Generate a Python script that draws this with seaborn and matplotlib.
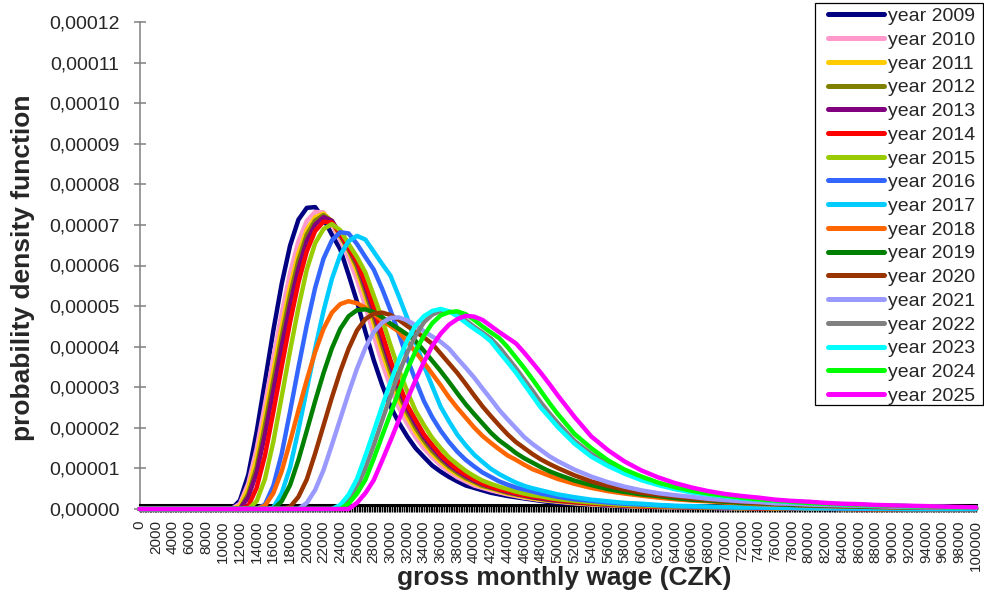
import matplotlib
matplotlib.use("Agg")
import matplotlib.pyplot as plt
from matplotlib.lines import Line2D
from matplotlib.patches import Rectangle
from matplotlib.ticker import FuncFormatter, MultipleLocator
import pandas as pd
import seaborn as sns

# ---------------- data (density values in units of 1e-6) ----------------
wage = (list(range(0, 10000, 2000)) + list(range(10000, 50001, 1000))
        + list(range(52000, 100001, 2000)))
tick_wage = list(range(0, 100001, 2000))
SCALE = 1e-6

years = ["year 2009", "year 2010", "year 2011", "year 2012", "year 2013", "year 2014",
         "year 2015", "year 2016", "year 2017", "year 2018", "year 2019", "year 2020",
         "year 2021", "year 2022", "year 2023", "year 2024", "year 2025"]

colors = ["#000080", "#FF99CC", "#FFCC00", "#808000", "#800080", "#FF0000",
          "#99CC00", "#3366FF", "#00CCFF", "#FF6600", "#008000", "#993300",
          "#9999FF", "#808080", "#00FFFF", "#00FF00", "#FF00FF"]

Z5 = [0, 0, 0, 0, 0]

pdf_2009 = Z5 + [0, 0, 2.1, 8.4, 19.0, 31.4, 44.0, 55.5, 64.9, 71.3, 74.2, 74.4, 71.5, 67.6, 64.0,
                 57.7, 51.1, 43.7, 36.7, 30.6, 25.3, 21.3, 17.9, 15.0, 12.8, 10.7, 9.2, 7.9, 6.8,
                 5.8, 5.2, 4.6, 4.0, 3.6, 3.2, 2.9, 2.6, 2.3, 2.0, 1.7, 1.5] + \
           [1.3, 1.0, 0.8, 0.6, 0.6, 0.5, 0.4, 0.3, 0.3, 0.2, 0.2, 0.1, 0.1, 0.1, 0.1,
            0, 0, 0, 0, 0, 0, 0, 0, 0, 0]
pdf_2010 = Z5 + [0, 0, 1.3, 6.3, 14.8, 25.8, 37.3, 48.3, 58.2, 66.0, 71.0, 73.2, 73.1, 70.0, 66.3,
                 61.8, 56.5, 50.0, 42.9, 36.0, 30.1, 24.9, 21.0, 17.7, 14.9, 12.7, 10.7, 9.2, 7.8,
                 6.8, 5.8, 5.2, 4.6, 4.1, 3.6, 3.2, 2.8, 2.5, 2.2, 2.0, 1.8] + \
           [1.4, 1.1, 0.9, 0.7, 0.6, 0.5, 0.4, 0.4, 0.3, 0.2, 0.2, 0.2, 0.1, 0.1, 0.1, 0.1,
            0, 0, 0, 0, 0, 0, 0, 0, 0]
pdf_2011 = Z5 + [0, 0, 0.7, 5.0, 12.5, 22.9, 34.0, 44.8, 54.8, 63.0, 68.8, 71.9, 72.8, 70.8, 67.1,
                 63.6, 58.6, 52.4, 45.7, 38.7, 32.7, 26.8, 22.7, 19.0, 16.2, 13.6, 11.6, 9.8, 8.5,
                 7.3, 6.3, 5.5, 5.0, 4.4, 3.8, 3.4, 3.0, 2.6, 2.3, 2.1, 1.9] + \
           [1.5, 1.2, 1.0, 0.8, 0.6, 0.5, 0.5, 0.4, 0.3, 0.3, 0.2, 0.2, 0.1, 0.1, 0.1, 0.1,
            0, 0, 0, 0, 0, 0, 0, 0, 0]
pdf_2012 = Z5 + [0, 0, 0, 3.7, 10.3, 20.6, 31.6, 42.5, 52.7, 61.3, 67.6, 71.1, 72.4, 71.0, 67.4,
                 63.9, 59.7, 53.6, 47.2, 40.4, 34.0, 28.3, 23.8, 20.0, 16.9, 14.3, 12.2, 10.4, 8.9,
                 7.6, 6.7, 5.7, 5.2, 4.6, 4.0, 3.6, 3.2, 2.8, 2.5, 2.2, 2.0] + \
           [1.6, 1.3, 1.0, 0.8, 0.7, 0.6, 0.5, 0.4, 0.3, 0.3, 0.2, 0.2, 0.2, 0.1, 0.1, 0.1,
            0, 0, 0, 0, 0, 0, 0, 0, 0]
pdf_2013 = Z5 + [0, 0, 0, 2.9, 8.9, 18.4, 29.2, 40.1, 50.4, 59.3, 66.1, 70.1, 71.9, 71.0, 67.7,
                 64.3, 60.7, 54.8, 48.6, 41.9, 35.4, 29.8, 24.8, 21.0, 17.7, 15.1, 12.8, 10.9, 9.4,
                 8.1, 7.0, 6.1, 5.4, 4.8, 4.2, 3.7, 3.3, 2.9, 2.6, 2.3, 2.1] + \
           [1.7, 1.4, 1.1, 0.9, 0.7, 0.6, 0.5, 0.4, 0.4, 0.3, 0.3, 0.2, 0.2, 0.1, 0.1, 0.1, 0.1,
            0, 0, 0, 0, 0, 0, 0, 0]
pdf_2014 = Z5 + [0, 0, 0, 0.7, 5.2, 13.2, 23.9, 35.1, 46.0, 55.8, 63.5, 68.5, 70.8, 70.6, 67.9,
                 64.4, 61.1, 55.7, 49.8, 43.3, 36.7, 31.1, 25.6, 22.0, 18.4, 15.8, 13.3, 11.5, 9.7,
                 8.5, 7.3, 6.3, 5.5, 4.9, 4.4, 3.9, 3.4, 3.1, 2.8, 2.5, 2.2] + \
           [1.8, 1.4, 1.2, 0.9, 0.7, 0.6, 0.5, 0.5, 0.4, 0.3, 0.3, 0.2, 0.2, 0.2, 0.1, 0.1, 0.1,
            0, 0, 0, 0, 0, 0, 0, 0]
pdf_2015 = Z5 + [0, 0, 0, 0, 1.9, 7.4, 16.6, 27.7, 39.0, 49.6, 59.0, 65.5, 69.0, 70.2, 68.7,
                 65.3, 62.1, 58.3, 52.6, 46.8, 40.4, 34.3, 29.0, 24.2, 20.7, 17.5, 15.0, 12.7, 11.0,
                 9.4, 8.1, 7.0, 6.2, 5.5, 4.9, 4.3, 3.8, 3.4, 3.1, 2.7, 2.4] + \
           [2.0, 1.6, 1.3, 1.0, 0.9, 0.7, 0.6, 0.5, 0.4, 0.4, 0.3, 0.3, 0.2, 0.2, 0.1, 0.1, 0.1,
            0.1, 0, 0, 0, 0, 0, 0, 0]
pdf_2016 = Z5 + [0, 0, 0, 0, 0, 1.1, 5.7, 13.6, 24.0, 34.9, 45.3, 54.5, 61.7, 66.2, 68.2,
                 67.9, 65.3, 62.1, 59.0, 54.3, 49.0, 43.2, 37.1, 31.7, 26.6, 22.6, 19.3, 16.5, 14.1,
                 12.1, 10.5, 9.0, 7.9, 6.8, 6.0, 5.3, 4.8, 4.3, 3.8, 3.4, 3.0] + \
           [2.4, 2.0, 1.6, 1.3, 1.1, 0.9, 0.7, 0.6, 0.5, 0.4, 0.4, 0.3, 0.3, 0.2, 0.2, 0.2, 0.1,
            0.1, 0.1, 0, 0, 0, 0, 0, 0]
pdf_2017 = Z5 + [0, 0, 0, 0, 0, 0, 0.3, 3.9, 10.2, 19.5, 29.5, 39.5, 48.8, 56.7, 62.6,
                 66.0, 67.3, 66.4, 63.4, 60.4, 57.5, 52.4, 47.1, 41.2, 35.3, 30.2, 25.2, 21.6, 18.3,
                 15.7, 13.4, 11.6, 9.9, 8.6, 7.5, 6.5, 5.7, 5.1, 4.6, 4.1, 3.6] + \
           [2.9, 2.3, 1.9, 1.5, 1.3, 1.0, 0.8, 0.7, 0.6, 0.5, 0.4, 0.4, 0.3, 0.3, 0.2, 0.2, 0.2,
            0.1, 0.1, 0.1, 0, 0, 0, 0, 0]
pdf_2018 = Z5 + [0, 0, 0, 0, 0, 0.8, 3.9, 9.3, 16.6, 24.3, 31.8, 38.7, 44.4, 48.4, 50.5,
                 51.2, 50.7, 49.6, 48.0, 46.5, 45.1, 43.7, 41.2, 38.7, 36.1, 33.3, 30.5, 27.5, 24.9,
                 22.5, 20.1, 18.0, 16.3, 14.7, 13.2, 12.1, 10.9, 9.8, 9.0, 8.2, 7.4] + \
           [6.2, 5.2, 4.4, 3.8, 3.3, 2.8, 2.4, 2.1, 1.9, 1.6, 1.4, 1.2, 1.1, 1.0, 0.8, 0.7, 0.6,
            0.6, 0.5, 0.4, 0.4, 0.4, 0.3, 0.3, 0.3]
pdf_2019 = Z5 + [0, 0, 0, 0, 0, 0, 0, 1.9, 5.9, 12.1, 19.3, 26.6, 33.5, 39.6, 44.4,
                 47.5, 49.0, 49.2, 48.5, 47.3, 45.7, 44.4, 43.0, 41.4, 39.0, 36.5, 34.0, 31.3, 28.5,
                 25.8, 23.4, 21.1, 18.8, 16.9, 15.4, 13.8, 12.5, 11.4, 10.3, 9.3, 8.5] + \
           [7.0, 5.9, 4.9, 4.2, 3.6, 3.2, 2.7, 2.3, 2.1, 1.8, 1.5, 1.4, 1.2, 1.0, 0.9, 0.8, 0.7,
            0.6, 0.5, 0.5, 0.4, 0.4, 0.4, 0.3, 0.3]
pdf_2020 = Z5 + [0, 0, 0, 0, 0, 0, 0, 0, 0.5, 3.0, 7.3, 13.7, 20.6, 27.5, 33.9,
                 39.5, 44.0, 46.8, 48.1, 48.4, 47.8, 46.6, 45.1, 43.7, 42.3, 40.7, 38.3, 35.9, 33.5,
                 30.8, 28.0, 25.3, 22.9, 20.6, 18.4, 16.5, 15.0, 13.5, 12.2, 11.1, 10.1] + \
           [8.3, 6.8, 5.7, 4.8, 4.0, 3.5, 3.1, 2.6, 2.3, 2.0, 1.7, 1.5, 1.3, 1.2, 1.0, 0.9, 0.8,
            0.7, 0.6, 0.5, 0.5, 0.4, 0.4, 0.4, 0.3]
pdf_2021 = Z5 + [0, 0, 0, 0, 0, 0, 0, 0, 0, 0, 1.5, 4.7, 9.6, 15.8, 22.2,
                 28.6, 34.6, 39.7, 43.6, 45.9, 47.1, 47.2, 46.5, 45.3, 43.8, 42.5, 41.2, 39.5, 37.1,
                 34.8, 32.4, 29.7, 27.1, 24.4, 22.1, 19.9, 17.7, 16.0, 14.5, 13.0, 11.8] + \
           [9.7, 8.0, 6.6, 5.5, 4.6, 3.9, 3.4, 3.0, 2.5, 2.2, 1.9, 1.7, 1.4, 1.3, 1.1, 1.0, 0.9,
            0.8, 0.7, 0.6, 0.5, 0.4, 0.4, 0.4, 0.3]
pdf_2022 = Z5 + [0, 0, 0, 0, 0, 0, 0, 0, 0, 0, 0, 0, 0, 0, 0,
                 2.0, 5.3, 10.0, 15.7, 21.8, 27.8, 33.4, 38.5, 42.7, 46.0, 47.9, 48.8, 48.7, 47.9,
                 46.5, 44.9, 43.5, 42.0, 39.9, 37.3, 34.7, 31.9, 29.1, 26.2, 23.6, 21.2] + \
           [16.8, 13.6, 11.1, 9.0, 7.4, 6.1, 5.0, 4.2, 3.6, 3.1, 2.7, 2.3, 2.0, 1.7, 1.5, 1.3,
            1.1, 1.0, 0.9, 0.8, 0.7, 0.6, 0.5, 0.4, 0.4]
pdf_2023 = Z5 + [0, 0, 0, 0, 0, 0, 0, 0, 0, 0, 0, 0, 0, 0, 1.0,
                 3.5, 7.4, 13.1, 19.1, 25.3, 31.2, 36.7, 41.5, 45.2, 47.5, 48.8, 49.3, 48.7, 47.5,
                 45.9, 44.4, 43.0, 41.3, 38.7, 36.2, 33.6, 30.7, 27.8, 24.9, 22.6, 20.2] + \
           [16.1, 12.9, 10.6, 8.7, 7.1, 5.9, 4.9, 4.1, 3.6, 3.1, 2.6, 2.3, 2.0, 1.7, 1.5, 1.3,
            1.1, 1.0, 0.9, 0.8, 0.7, 0.6, 0.5, 0.4, 0.4]
pdf_2024 = Z5 + [0, 0, 0, 0, 0, 0, 0, 0, 0, 0, 0, 0, 0, 0, 0,
                 1.3, 3.8, 7.2, 12.4, 18.0, 23.5, 29.0, 34.3, 38.9, 42.7, 45.8, 47.7, 48.5, 48.7,
                 48.0, 46.6, 45.0, 43.5, 42.1, 39.9, 37.3, 34.7, 31.9, 29.0, 26.1, 23.4] + \
           [18.5, 15.0, 12.0, 9.7, 8.0, 6.5, 5.4, 4.5, 3.8, 3.3, 2.8, 2.4, 2.1, 1.8, 1.5, 1.3,
            1.2, 1.0, 0.9, 0.8, 0.7, 0.6, 0.5, 0.4, 0.4]
pdf_2025 = Z5 + [0, 0, 0, 0, 0, 0, 0, 0, 0, 0, 0, 0, 0, 0, 0,
                 0, 1.5, 3.9, 7.1, 11.9, 16.8, 21.9, 27.0, 31.7, 36.2, 40.2, 43.2, 45.4, 46.8,
                 47.6, 47.4, 46.6, 45.1, 43.6, 42.2, 40.8, 38.5, 36.0, 33.5, 30.8, 28.0] + \
           [22.7, 17.9, 14.5, 11.7, 9.5, 7.8, 6.4, 5.3, 4.4, 3.7, 3.2, 2.8, 2.3, 2.0, 1.8, 1.5,
            1.3, 1.2, 1.0, 0.9, 0.8, 0.7, 0.6, 0.5, 0.4]

series = [pdf_2009, pdf_2010, pdf_2011, pdf_2012, pdf_2013, pdf_2014, pdf_2015, pdf_2016,
          pdf_2017, pdf_2018, pdf_2019, pdf_2020, pdf_2021, pdf_2022, pdf_2023, pdf_2024, pdf_2025]

yticks = [0, 0.00001, 0.00002, 0.00003, 0.00004, 0.00005, 0.00006,
          0.00007, 0.00008, 0.00009, 0.00010, 0.00011, 0.00012]

# ---------------- build long table ----------------
rows = []
for yr, vals in zip(years, series):
    for w, v in zip(wage, vals):
        rows.append({"wage": w, "density": v * SCALE, "year": yr})
df = pd.DataFrame(rows)

# ---------------- styling ----------------
sns.set_style("white")
plt.rcParams["font.family"] = ["Liberation Sans", "DejaVu Sans"]

W, H = 984, 593
fig = plt.figure(figsize=(W / 100, H / 100), dpi=100)
x0, x1, ytop, ybot = 139.5, 976.0, 22.0, 509.0
ax = fig.add_axes([x0 / W, 1 - ybot / H, (x1 - x0) / W, (ybot - ytop) / H])

palette = dict(zip(years, colors))
sns.lineplot(data=df, x="wage", y="density", hue="year", hue_order=years,
             palette=palette, estimator=None, sort=True, linewidth=3.2,
             legend=False, ax=ax, clip_on=False, zorder=3)

ax.set_xlim(0, 100000)
ax.set_ylim(0, 0.00012)
ax.set_xlabel("")
ax.set_ylabel("")

# axes / spines
ax.spines["top"].set_visible(False)
ax.spines["right"].set_visible(False)
ax.spines["left"].set_color("#808080")
ax.spines["left"].set_linewidth(1.1)
ax.spines["bottom"].set_position(("data", 1.1e-6))
ax.spines["bottom"].set_color("black")
ax.spines["bottom"].set_linewidth(2.2)

ax.set_xticks(tick_wage)
ax.set_xticklabels([str(w) for w in tick_wage])
ax.xaxis.set_minor_locator(MultipleLocator(200))
ax.tick_params(axis="x", which="both", direction="out", length=4.7, width=1.0,
               color="black", bottom=True)
ax.tick_params(axis="x", which="major", pad=6.5, labelsize=11, labelrotation=90)

ax.set_yticks(yticks)
ax.yaxis.set_major_formatter(FuncFormatter(lambda v, p: f"{v:.5f}".replace(".", ",")))
ax.tick_params(axis="y", which="major", direction="inout", length=8.6, width=1.1,
               color="#808080", pad=10, labelsize=14, left=True)
ax.grid(False)

# legend box (drawn as a figure-level frame) and legend entries on top of it
fig.add_artist(Rectangle((815 / W, 1 - 405 / H), 168 / W, 402 / H, transform=fig.transFigure,
                         facecolor="white", edgecolor="black", linewidth=0.9, zorder=4))
handles = [Line2D([0], [0], color=c, lw=3.6, solid_capstyle="round") for c in colors]
leg = fig.legend(handles, years, loc="upper left", bbox_to_anchor=(828 / W, 1 - 7.5 / H),
                 bbox_transform=fig.transFigure, frameon=False, fontsize=14,
                 handlelength=2.9, handletextpad=0.2, borderpad=0, labelspacing=0.315,
                 borderaxespad=0)
leg.set_zorder(5)

# axis titles
fig.text(564 / W, 1 - 585 / H, "gross monthly wage (CZK)", ha="center", va="baseline",
         fontsize=19, fontweight="bold")
fig.text(30 / W, 1 - 267.5 / H, "probability density function", rotation=90,
         rotation_mode="anchor", ha="center", va="baseline", fontsize=19, fontweight="bold")

fig.savefig("out.png", dpi=100)
